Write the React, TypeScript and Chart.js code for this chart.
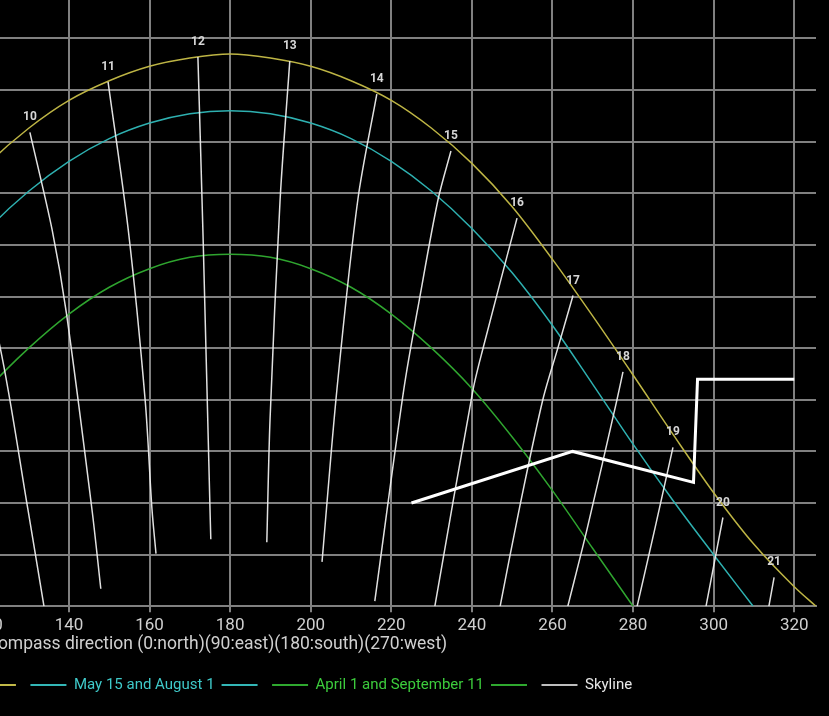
import React, { useEffect, useRef } from "react";
import { Chart, registerables } from "chart.js";

Chart.register(...registerables);

// ---------------- data ----------------
const X_TITLE = "Compass direction (0:north)(90:east)(180:south)(270:west)";
const X_MIN = 28;
const X_MAX = 325.4;
const Y_MIN = 0;
const Y_MAX = 60;
const X_TICKS = [40, 60, 80, 100, 120, 140, 160, 180, 200, 220, 240, 260, 280, 300, 320];
const Y_TICKS = [0, 5, 10, 15, 20, 25, 30, 35, 40, 45, 50, 55, 60];

const SERIES_NAMES = ["June 21 (summer solstice)", "May 15 and August 1", "April 1 and September 11", "Skyline"];

const JUNE_AZ = [34.6, 40, 50, 60, 70, 80, 90, 100, 110, 120, 130, 140, 150, 160, 170, 180, 190, 200, 210, 220, 230, 240, 250, 260, 270, 280, 290, 300, 310, 320, 325.4];
const JUNE_ALT = [0, 1.9, 6.0, 11.0, 16.6, 22.4, 28.1, 33.6, 38.7, 42.9, 46.3, 49.0, 50.9, 52.3, 53.1, 53.5, 53.1, 52.3, 50.9, 49.0, 46.3, 42.9, 38.7, 33.6, 28.1, 22.4, 16.6, 11.0, 6.0, 1.9, 0];

const MAY_AZ = [50.2, 60, 70, 80, 90, 100, 110, 120, 130, 140, 150, 160, 170, 180, 190, 200, 210, 220, 230, 240, 250, 260, 270, 280, 290, 300, 309.8];
const MAY_ALT = [0, 5.0, 10.2, 15.7, 21.5, 27.2, 32.3, 36.6, 40.2, 43.1, 45.3, 46.8, 47.7, 48.0, 47.7, 46.8, 45.3, 43.1, 40.2, 36.6, 32.3, 27.2, 21.5, 15.7, 10.2, 5.0, 0];

const APRIL_AZ = [80, 90, 100, 110, 120, 130, 140, 150, 160, 170, 180, 190, 200, 210, 220, 230, 240, 250, 260, 270, 280];
const APRIL_ALT = [0, 5.6, 11.2, 16.4, 21.1, 25.0, 28.3, 30.9, 32.7, 33.8, 34.1, 33.8, 32.7, 30.9, 28.3, 25.0, 21.1, 16.4, 11.2, 5.6, 0];

const SKYLINE_AZ = [225, 265, 295, 296, 320];
const SKYLINE_ALT = [10, 15, 12, 22, 22];

const HOUR_LABELS = ["9", "10", "11", "12", "13", "14", "15", "16", "17", "18", "19", "20", "21"];
const HOUR_AZ = [
  [113.5, 122.9, 129.8, 133.8],
  [130.3, 135.8, 139.4, 145.7, 147.9],
  [149.7, 154.7, 158.9, 160.6, 161.6],
  [172.0, 173.3, 175.0, 175.2],
  [194.8, 192.4, 189.9, 189.1],
  [216.4, 211.7, 206.5, 202.8],
  [234.8, 231.6, 227.1, 223.1, 215.9],
  [251.2, 242.7, 240.3, 230.8],
  [265.1, 261.4, 257.6, 251.9, 247.0],
  [277.5, 276.0, 268.6, 263.8],
  [289.9, 285.4, 281.0],
  [302.3, 298.1],
  [315.0, 313.7],
];
const HOUR_ALT = [
  [39.8, 25.1, 9.4, 0],
  [45.9, 36.5, 28.3, 9.4, 1.7],
  [50.8, 36.5, 20.0, 9.4, 5.1],
  [53.2, 35.5, 9.4, 6.5],
  [52.8, 39.4, 18.1, 6.2],
  [49.6, 39.4, 21.0, 4.3],
  [44.1, 39.4, 30.0, 21.0, 0.5],
  [37.6, 24.9, 21.0, 0],
  [30.1, 25.1, 20.0, 9.7, 0],
  [22.7, 20.0, 7.5, 0],
  [15.4, 7.5, 0],
  [8.6, 0],
  [2.8, 0],
];

// ---------------- styles / layout ----------------
const LINE_COLORS = ["#bdb444", "#2eb0b0", "#2fa52f", "#ffffff"];
const LEGEND_BOX_COLORS = ["#c2b948", "#33b6b6", "#2fa82f", "#bdbdbd"];
const LEGEND_TEXT_COLORS = ["#cfc655", "#3fcaca", "#3ccc3c", "#e8e8e8"];
const GRID_COLOR = "#808080";
const TEXT_COLOR = "#d0d0d0";
const HOUR_LINE_COLOR = "rgba(236,236,236,0.95)";
const HOUR_TEXT_COLOR = "#d6d6d6";

const CANVAS_LEFT = -446;
const CANVAS_TOP = -20;
const CANVAS_W = 1275;
const CANVAS_H = 740;
const Y_AXIS_WIDTH = 50.7;

const pts = (xs: number[], ys: number[]) => xs.map((x, i) => ({ x, y: ys[i] }));

const bgPlugin = {
  id: "bg",
  beforeDraw(chart: any) {
    const { ctx, width, height } = chart;
    ctx.save();
    ctx.fillStyle = "#000";
    ctx.fillRect(0, 0, width, height);
    ctx.restore();
  },
};

const hourLabelPlugin = {
  id: "hourLabels",
  afterDatasetsDraw(chart: any) {
    const ctx = chart.ctx;
    ctx.save();
    ctx.font = "bold 12px Roboto";
    ctx.fillStyle = HOUR_TEXT_COLOR;
    ctx.textAlign = "center";
    ctx.textBaseline = "middle";
    chart.data.datasets.forEach((ds: any, i: number) => {
      if (!ds.hourLabel) return;
      const meta = chart.getDatasetMeta(i);
      const p = meta.data[0];
      if (p) ctx.fillText(ds.hourLabel, p.x, p.y - 15);
    });
    ctx.restore();
  },
};

export default function App() {
  const ref = useRef<HTMLCanvasElement | null>(null);

  useEffect(() => {
    if (!ref.current) return;
    document.body.style.margin = "0";
    document.body.style.background = "#000";

    const curveSets = [
      { az: JUNE_AZ, alt: JUNE_ALT },
      { az: MAY_AZ, alt: MAY_ALT },
      { az: APRIL_AZ, alt: APRIL_ALT },
    ].map((c, i) => ({
      label: SERIES_NAMES[i],
      data: pts(c.az, c.alt),
      borderColor: LINE_COLORS[i],
      borderWidth: 1.5,
      pointRadius: 0,
      cubicInterpolationMode: "monotone" as const,
      fill: false,
      order: 3,
    }));

    const hourSets = HOUR_LABELS.map((h, i) => ({
      label: "hour " + h,
      hourLabel: h,
      data: pts(HOUR_AZ[i], HOUR_ALT[i]),
      borderColor: HOUR_LINE_COLOR,
      borderWidth: 1.5,
      pointRadius: 0,
      tension: 0.3,
      fill: false,
      order: 2,
    }));

    const skylineSet = {
      label: SERIES_NAMES[3],
      data: pts(SKYLINE_AZ, SKYLINE_ALT),
      borderColor: LINE_COLORS[3],
      borderWidth: 3,
      pointRadius: 0,
      tension: 0,
      fill: false,
      order: 1,
    };

    const legendItems: any[] = [];
    for (let i = 0; i < 3; i++) {
      legendItems.push({ text: SERIES_NAMES[i], fillStyle: LEGEND_BOX_COLORS[i], strokeStyle: LEGEND_BOX_COLORS[i], lineWidth: 0, fontColor: LEGEND_TEXT_COLORS[i], hidden: false, datasetIndex: i });
      legendItems.push({ text: "", fillStyle: LEGEND_BOX_COLORS[i], strokeStyle: LEGEND_BOX_COLORS[i], lineWidth: 0, fontColor: LEGEND_TEXT_COLORS[i], hidden: false, datasetIndex: i });
    }
    legendItems.push({ text: SERIES_NAMES[3], fillStyle: LEGEND_BOX_COLORS[3], strokeStyle: LEGEND_BOX_COLORS[3], lineWidth: 0, fontColor: LEGEND_TEXT_COLORS[3], hidden: false, datasetIndex: 3 });

    const chart = new Chart(ref.current, {
      type: "line",
      data: { datasets: [...curveSets, skylineSet, ...hourSets] as any },
      options: {
        animation: false,
        responsive: false,
        maintainAspectRatio: false,
        events: [],
        layout: { padding: { top: 6.8, bottom: 17.5, left: 13, right: 13 } },
        plugins: {
          tooltip: { enabled: false },
          legend: {
            display: true,
            position: "bottom",
            labels: {
              boxWidth: 36,
              boxHeight: 2,
              padding: 7,
              font: { size: 15, family: "Roboto" },
              generateLabels: () => legendItems,
            },
          },
        },
        scales: {
          x: {
            type: "linear",
            min: X_MIN,
            max: X_MAX,
            afterBuildTicks: (s: any) => {
              s.ticks = X_TICKS.map((v) => ({ value: v }));
            },
            ticks: {
              color: TEXT_COLOR,
              font: { size: 17, family: "Roboto" },
              padding: 3,
              autoSkip: false,
              maxRotation: 0,
              callback: (v: any) => String(v),
            },
            grid: { color: GRID_COLOR, lineWidth: 2, tickLength: 6, tickColor: GRID_COLOR },
            border: { color: GRID_COLOR, width: 2 },
            title: {
              display: true,
              text: X_TITLE,
              color: TEXT_COLOR,
              font: { size: 17.5, family: "Roboto" },
              padding: { top: -5, bottom: 15.8 },
            },
          },
          y: {
            type: "linear",
            min: Y_MIN,
            max: Y_MAX,
            afterBuildTicks: (s: any) => {
              s.ticks = Y_TICKS.map((v) => ({ value: v }));
            },
            afterFit: (s: any) => {
              s.width = Y_AXIS_WIDTH;
            },
            ticks: { display: false },
            grid: { color: GRID_COLOR, lineWidth: 2, drawTicks: false },
            border: { color: GRID_COLOR, width: 2 },
          },
        },
      } as any,
      plugins: [bgPlugin, hourLabelPlugin],
    });
    return () => chart.destroy();
  }, []);

  return (
    <div style={{ position: "fixed", left: 0, top: 0, width: 829, height: 716, overflow: "hidden", background: "#000" }}>
      <canvas
        ref={ref}
        width={CANVAS_W}
        height={CANVAS_H}
        style={{ position: "absolute", left: CANVAS_LEFT, top: CANVAS_TOP, width: CANVAS_W, height: CANVAS_H }}
      />
    </div>
  );
}
